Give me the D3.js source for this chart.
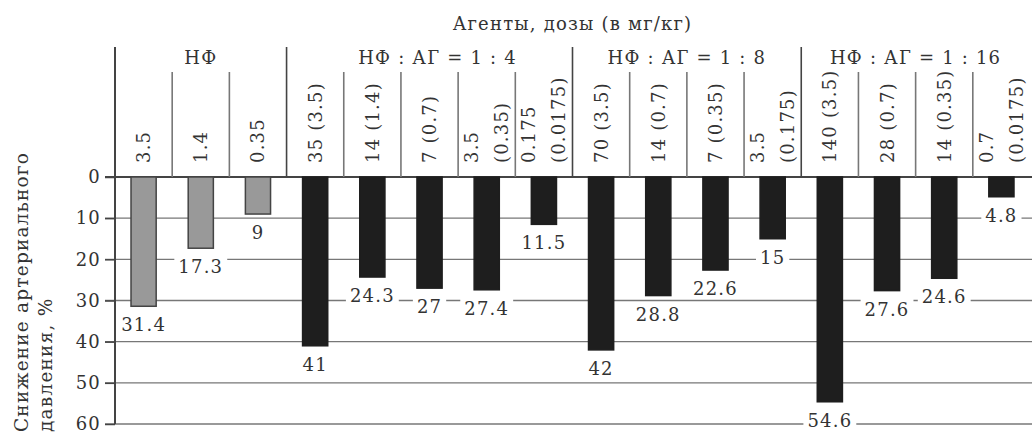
<!DOCTYPE html>
<html lang="ru">
<meta charset="UTF-8">
<title>Снижение артериального давления</title>
<script src="https://d3js.org/d3.v7.min.js"></script>
<style>
  html, body { margin: 0; padding: 0; background: #fff; }
  svg text { font-family: "DejaVu Serif", "Liberation Serif", serif; fill: #333; letter-spacing: 1.2px; }
</style>
<body>
<div id="chart"></div>
<script>
// data
const groups = ["НФ", "НФ : АГ = 1 : 4", "НФ : АГ = 1 : 8", "НФ : АГ = 1 : 16"];
const groupSizes = [3, 5, 4, 4];
const doses = [
  ["3.5"], ["1.4"], ["0.35"],
  ["35 (3.5)"], ["14 (1.4)"], ["7 (0.7)"], ["3.5", "(0.35)"], ["0.175", "(0.0175)"],
  ["70 (3.5)"], ["14 (0.7)"], ["7 (0.35)"], ["3.5", "(0.175)"],
  ["140 (3.5)"], ["28 (0.7)"], ["14 (0.35)"], ["0.7", "(0.0175)"]
];
const values = [31.4, 17.3, 9, 41, 24.3, 27, 27.4, 11.5, 42, 28.8, 22.6, 15, 54.6, 27.6, 24.6, 4.8];
const yTicks = [0, 10, 20, 30, 40, 50, 60];
const title = "Агенты, дозы (в мг/кг)";
const yLabel = ["Снижение артериального", "давления, %"];

const W = 1032, H = 432;
const svg = d3.select("#chart").append("svg")
  .attr("width", W).attr("height", H);

// group index for each column
const groupOf = [];
groupSizes.forEach((n, g) => { for (let i = 0; i < n; i++) groupOf.push(g); });
const cols = d3.range(values.length);

const x = d3.scaleBand().domain(cols).range([115, 1030]).paddingInner(0).paddingOuter(0);
const y = d3.scaleLinear().domain([0, 60]).range([177, 424]);
const barW = x.bandwidth() * 0.44;

// horizontal gridlines
svg.append("g").selectAll("line")
  .data(yTicks)
  .join("line")
  .attr("x1", 105).attr("x2", W)
  .attr("y1", d => y(d)).attr("y2", d => y(d))
  .attr("stroke", d => (d === 0 ? "#444" : "#777"))
  .attr("stroke-width", d => (d === 0 ? 2 : 1.4));

// y axis with tick labels
const yAxis = svg.append("g")
  .attr("transform", "translate(115,0)")
  .call(d3.axisLeft(y).tickValues(yTicks).tickSize(10).tickPadding(4));
yAxis.select(".domain").remove();
yAxis.selectAll(".tick line").attr("stroke", "#444").attr("stroke-width", 1.5);
yAxis.selectAll(".tick text")
  .attr("font-size", 18)
  .attr("font-family", "DejaVu Serif, serif")
  .attr("fill", "#555");

// axis line running up through header
svg.append("line")
  .attr("x1", 115).attr("x2", 115)
  .attr("y1", 47).attr("y2", 424)
  .attr("stroke", "#444").attr("stroke-width", 2);

// column separators (taller at group boundaries)
svg.append("g").selectAll("line")
  .data(cols.slice(1))
  .join("line")
  .attr("x1", d => x(d)).attr("x2", d => x(d))
  .attr("y1", d => (groupOf[d] !== groupOf[d - 1] ? 47 : 72))
  .attr("y2", y(0))
  .attr("stroke", d => (groupOf[d] !== groupOf[d - 1] ? "#444" : "#777"))
  .attr("stroke-width", 1.6);

// title
svg.append("text")
  .attr("x", (115 + 1030) / 2).attr("y", 30)
  .attr("text-anchor", "middle")
  .attr("font-size", 18)
  .text(title);

// group labels
let start = 0;
groups.forEach((g, i) => {
  const x0 = x(start), x1 = x(start + groupSizes[i] - 1) + x.bandwidth();
  svg.append("text")
    .attr("x", (x0 + x1) / 2 + (i === 1 ? 8 : 0)).attr("y", 64)
    .attr("text-anchor", "middle")
    .attr("font-size", 18)
    .text(g);
  start += groupSizes[i];
});

// rotated dose labels
const doseG = svg.append("g").selectAll("g")
  .data(cols)
  .join("g");
doseG.each(function (d) {
  const lines = doses[d];
  const cx = x(d) + x.bandwidth() / 2;
  lines.forEach((t, k) => {
    const off = lines.length === 1 ? 0 : (k === 0 ? -15 : 15);
    d3.select(this).append("text")
      .attr("transform", `translate(${cx + off},163) rotate(-90)`)
      .attr("dominant-baseline", "central")
      .attr("font-size", 18)
      .text(t);
  });
});

// bars
svg.append("g").selectAll("rect")
  .data(cols)
  .join("rect")
  .attr("x", d => x(d) + (x.bandwidth() - barW) / 2)
  .attr("y", y(0))
  .attr("width", barW)
  .attr("height", d => y(values[d]) - y(0))
  .attr("fill", d => (groupOf[d] === 0 ? "#999" : "#1e1e1e"))
  .attr("stroke", d => (groupOf[d] === 0 ? "#444" : "#1e1e1e"))
  .attr("stroke-width", 1.5);

// value labels with white background cutting the gridlines
const valG = svg.append("g").selectAll("g")
  .data(cols)
  .join("g")
  .attr("transform", d => `translate(${x(d) + x.bandwidth() / 2},${y(values[d]) + 25})`);
valG.append("text")
  .attr("text-anchor", "middle")
  .attr("font-size", 18)
  .text(d => values[d]);
valG.each(function () {
  const t = d3.select(this).select("text");
  const b = t.node().getBBox();
  d3.select(this).insert("rect", "text")
    .attr("x", b.x - 4).attr("y", b.y)
    .attr("width", b.width + 8).attr("height", b.height)
    .attr("fill", "#fff");
});

// y axis label, two rotated lines
yLabel.forEach((t, k) => {
  svg.append("text")
    .attr("transform", `translate(${21 + k * 24},432) rotate(-90)`)
    .attr("dominant-baseline", "central")
    .attr("font-size", 18.5)
    .text(t);
});
</script>
</body>
</html>
